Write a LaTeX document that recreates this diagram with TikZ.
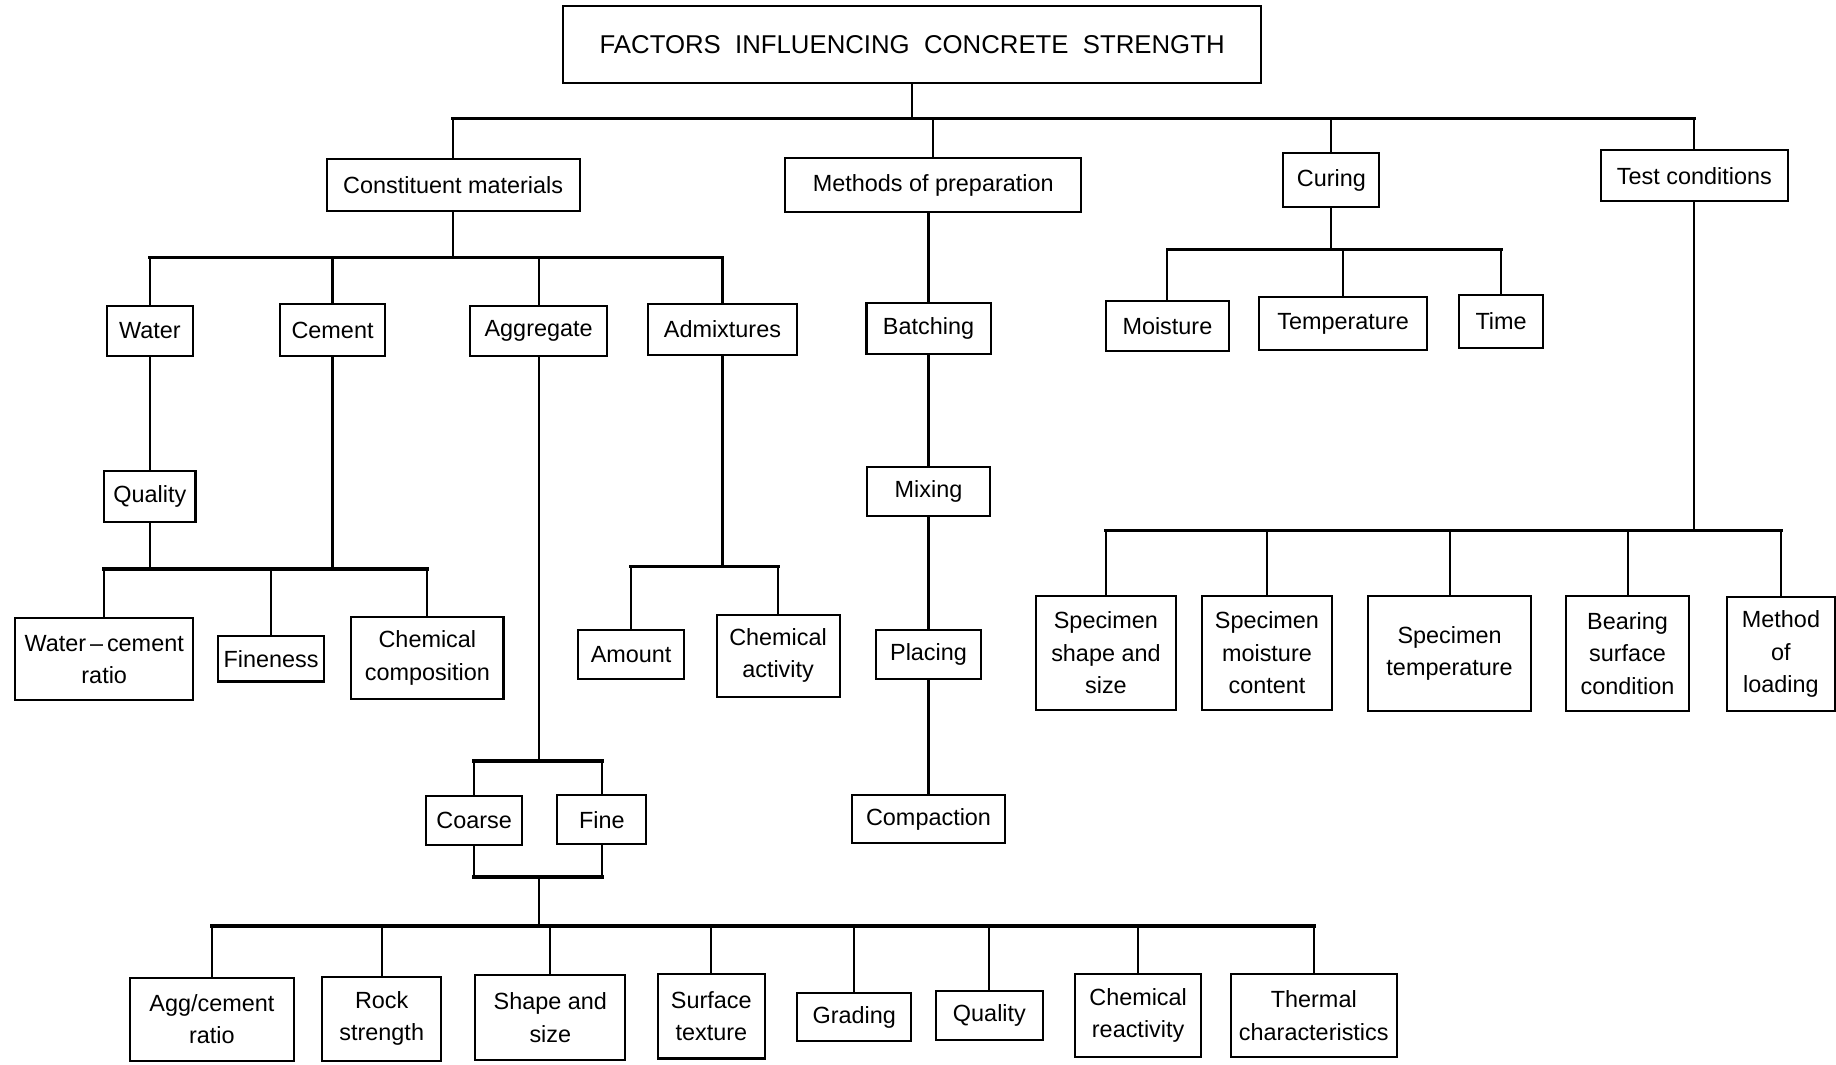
\documentclass[tikz,border=0pt]{standalone}
\usepackage{fontspec}
\setmainfont{Liberation Sans}

\begin{document}
\begin{tikzpicture}[x=0.5pt, y=-0.5pt,
		box/.style={draw, line width=0.9pt, align=center, inner sep=2pt, font=\fontsize{10}{13.8}\selectfont},
		wh/.style 2 args={minimum width=#1pt, minimum height=#2pt},
		link/.style={line width=0.9pt},
		bar/.style={line width=1.5pt, line cap=rect}]

	\useasboundingbox (0,0) rectangle (1568,909);

	% ==========================================
	% TITLE & MAIN GROUPS
	% ==========================================
	\node[box, wh={298}{33}, font=\fontsize{11}{14}\selectfont] (title) at (779,38) {FACTORS \ INFLUENCING \ CONCRETE \ STRENGTH};

	\node[box, wh={108}{22.5}] (cm)      at (387,158)  {Constituent materials};
	\node[box, wh={126.5}{23}] (methods) at (797,158)  {Methods of preparation};
	\node[box, wh={41}{23}]    (curing)  at (1137,154) {Curing};
	\node[box, wh={80}{22}]    (test)    at (1447,150) {Test conditions};

	% ==========================================
	% CONSTITUENT MATERIALS
	% ==========================================
	\node[box, wh={37}{21.5}]   (water)     at (128,282.5) {Water};
	\node[box, wh={44.5}{22}]   (cement)    at (284,282)   {Cement};
	\node[box, wh={58.5}{21.5}] (aggregate) at (460,282.5) {Aggregate};
	\node[box, wh={63.5}{21.5}] (admix)     at (617,281.5) {Admixtures};

	\node[box, wh={39}{22}]     (wquality)  at (128,424)   {Quality};
	\node[box, wh={76}{35}]     (wcr)       at (89,563)    {Water\,--\,cement\\ratio};
	\node[box, wh={45.5}{19.5}] (fineness)  at (231.5,562.5) {Fineness};
	\node[box, wh={65}{35}]     (chemcomp)  at (365,562)   {Chemical\\composition};

	\node[box, wh={45}{21}]     (amount)    at (539,559)   {Amount};
	\node[box, wh={52.5}{35}]   (chemact)   at (664.5,560) {Chemical\\activity};

	\node[box, wh={41}{21}]     (coarse)    at (405,701)   {Coarse};
	\node[box, wh={38}{21}]     (fine)      at (514,700)   {Fine};

	\node[box, wh={70}{35.5}]   (aggratio)  at (181,870.5) {Agg/cement\\ratio};
	\node[box, wh={51}{36}]     (rock)      at (326,870)   {Rock\\strength};
	\node[box, wh={64}{36}]     (shape)     at (470,869)   {Shape and\\size};
	\node[box, wh={45.5}{36}]   (surface)   at (607.5,868) {Surface\\texture};
	\node[box, wh={48.5}{20.5}] (grading)   at (729.5,868.5) {Grading};
	\node[box, wh={46}{21}]     (aquality)  at (845,867)   {Quality};
	\node[box, wh={54}{35.5}]   (chemreact) at (972,867.5) {Chemical\\reactivity};
	\node[box, wh={71}{35.5}]   (thermal)   at (1122,867.5) {Thermal\\characteristics};

	% ==========================================
	% METHODS OF PREPARATION
	% ==========================================
	\node[box, wh={53}{21.5}]   (batching)   at (793,280.5) {Batching};
	\node[box, wh={52.5}{21}]   (mixing)     at (793,420)   {Mixing};
	\node[box, wh={45}{21}]     (placing)    at (793,559)   {Placing};
	\node[box, wh={65.5}{20.5}] (compaction) at (793,699.5) {Compaction};

	% ==========================================
	% CURING & TEST CONDITIONS
	% ==========================================
	\node[box, wh={52.5}{21.5}] (moisture) at (997,278.5)  {Moisture};
	\node[box, wh={72}{22.5}]   (temp)     at (1147,276.5) {Temperature};
	\node[box, wh={36}{22.5}]   (time)     at (1282,274.5) {Time};

	\node[box, wh={59.5}{48.5}] (sss)     at (944.5,557.5) {Specimen\\shape and\\size};
	\node[box, wh={55.5}{48.5}] (smc)     at (1082,557.5)  {Specimen\\moisture\\content};
	\node[box, wh={69.5}{49}]   (stemp)   at (1238,558)    {Specimen\\temperature};
	\node[box, wh={52.5}{49}]   (bearing) at (1390,558)    {Bearing\\surface\\condition};
	\node[box, wh={46}{48.5}]   (loading) at (1521,558.5)  {Method\\of\\loading};

	% ==========================================
	% CONNECTORS
	% ==========================================
	% top level
	\coordinate (j0) at (779,101);
	\draw[link] (title.south) -- (j0);
	\draw[bar] (cm.north |- j0) -- (test.north |- j0);
	\foreach \n in {cm, methods, curing, test}
		\draw[link] (\n.north) -- (\n.north |- j0);

	% constituent materials
	\coordinate (j1) at (387,220);
	\draw[link] (cm.south) -- (j1);
	\draw[bar] (water.north |- j1) -- (admix.north |- j1);
	\foreach \n in {water, cement, aggregate, admix}
		\draw[link] (\n.north) -- (\n.north |- j1);

	% water and cement
	\draw[link] (water.south) -- (wquality.north);
	\coordinate (j2) at (128,486);
	\draw[link] (wquality.south) -- (j2);
	\draw[link] (cement.south) -- (cement.south |- j2);
	\draw[bar] (wcr.north |- j2) -- (chemcomp.north |- j2);
	\foreach \n in {wcr, fineness, chemcomp}
		\draw[link] (\n.north) -- (\n.north |- j2);

	% admixtures
	\coordinate (j3) at (617,484);
	\draw[link] (admix.south) -- (j3);
	\draw[bar] (amount.north |- j3) -- (chemact.north |- j3);
	\foreach \n in {amount, chemact}
		\draw[link] (\n.north) -- (\n.north |- j3);

	% aggregate
	\coordinate (j4) at (460,650);
	\draw[link] (aggregate.south) -- (j4);
	\draw[bar] (coarse.north |- j4) -- (fine.north |- j4);
	\coordinate (j5) at (460,749);
	\draw[bar] (coarse.south |- j5) -- (fine.south |- j5);
	\foreach \n in {coarse, fine} {
		\draw[link] (\n.north) -- (\n.north |- j4);
		\draw[link] (\n.south) -- (\n.south |- j5);
	}
	\coordinate (j6) at (460,791);
	\draw[link] (j5) -- (j6);
	\draw[bar] (aggratio.north |- j6) -- (thermal.north |- j6);
	\foreach \n in {aggratio, rock, shape, surface, grading, aquality, chemreact, thermal}
		\draw[link] (\n.north) -- (\n.north |- j6);

	% methods of preparation
	\draw[link] (methods.south -| batching.north) -- (batching.north);
	\draw[link] (batching) -- (mixing);
	\draw[link] (mixing) -- (placing);
	\draw[link] (placing) -- (compaction);

	% curing
	\coordinate (j7) at (1137,213);
	\draw[link] (curing.south) -- (j7);
	\draw[bar] (moisture.north |- j7) -- (time.north |- j7);
	\foreach \n in {moisture, temp, time}
		\draw[link] (\n.north) -- (\n.north |- j7);

	% test conditions
	\coordinate (j8) at (1447,453);
	\draw[link] (test.south) -- (j8);
	\draw[bar] (sss.north |- j8) -- (loading.north |- j8);
	\foreach \n in {sss, smc, stemp, bearing, loading}
		\draw[link] (\n.north) -- (\n.north |- j8);

\end{tikzpicture}
\end{document}
